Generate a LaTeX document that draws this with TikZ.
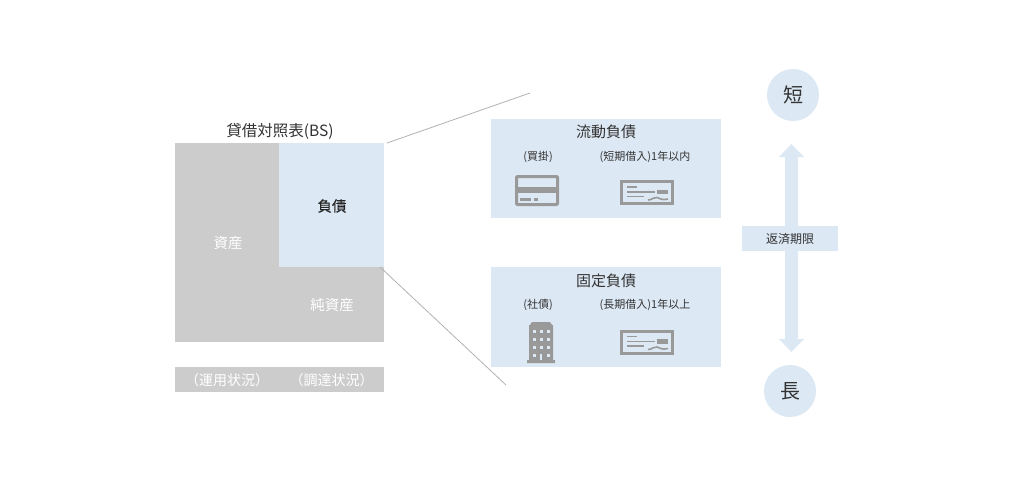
\documentclass[tikz,border=0pt]{standalone}
\usepackage{fontspec}
\setmainfont{Noto Sans CJK JP}
\newfontfamily\jpbold{Noto Sans CJK JP}[FakeBold=0.6]
\definecolor{pale}{HTML}{DCE8F4}
\definecolor{block}{HTML}{CCCCCC}
\definecolor{icon}{HTML}{999999}
\definecolor{ink}{HTML}{333333}
\newcommand{\fs}[1]{\fontsize{#1}{#1}\selectfont}
\tikzset{
  x=1pt,y=-1pt,
  area/.style={inner sep=0pt,outer sep=0pt,anchor=north west},
  lab/.style={inner sep=0pt,text=ink,anchor=center},
  wlab/.style={inner sep=0pt,text=white,anchor=center},
  lead/.style={draw=black!30,line width=0.8pt},
  iconline/.style={draw=icon,line width=3pt},
  iconthin/.style={draw=icon,line width=1.6pt},
}
\newcommand{\areabox}[6]{\node[area,fill=#6,minimum width=#4pt,minimum height=#5pt] (#1) at (#2,#3) {};}
\newcommand{\chequeicon}[2]{%
  \begin{scope}[shift={(#1,#2)}]
    \draw[iconline] (1.5,1.5) rectangle (52.5,23.5);
    \draw[iconthin] (7,7) -- (17,7);
    \draw[iconthin] (7,12) -- (35,12);
    \fill[icon] (37,9.5) rectangle (48,14);
    \draw[iconthin] (7,16.5) -- (24,16.5);
    \draw[iconthin] (28,20) .. controls (33,20) and (33,16.5) .. (37,17.5) .. controls (40,18.5) and (42,20.5) .. (48,19);
  \end{scope}}
\begin{document}
\begin{tikzpicture}
\useasboundingbox (0,0) rectangle (1024,492);
\fill[white] (0,0) rectangle (1024,492);
% balance sheet
\areabox{assets}{175}{143}{209}{199}{block}
\areabox{liab}{279}{143}{105}{124}{pale}
\areabox{strip}{175}{367}{209}{25}{block}
\areabox{cur}{491}{119}{230}{99}{pale}
\areabox{fix}{491}{267}{230}{100}{pale}
\node[lab,font=\fs{15.5}] (title) at (280,131) {貸借対照表(BS)};
\node[lab,font=\jpbold\fs{14.5},text=black!85] (liabt) at (332,206) {負債};
\node[wlab,font=\fs{14.5}] (assett) at (228,243) {資産};
\node[wlab,font=\fs{14.5}] (equity) at (332,305) {純資産};
\node[wlab,font=\fs{14}] (use) at (227,380) {（運用状況）};
\node[wlab,font=\fs{14}] (src) at (331.5,380) {（調達状況）};
% leads
\coordinate (la) at (387,143);
\coordinate (lb) at (530,93);
\coordinate (lc) at (380,267);
\coordinate (ld) at (506,385);
\draw[lead] (la) -- (lb);
\draw[lead] (lc) -- (ld);
% current
\node[lab,font=\fs{15}] (curt) at (606,132) {流動負債};
\node[lab,font=\fs{11}] (pay) at (538,157) {(買掛)};
\node[lab,font=\fs{11}] (short) at (645,157) {(短期借入)1年以内};
\draw[icon,line width=3pt,rounded corners=1pt] (516.5,176.5) rectangle (557.5,204.5);
\fill[icon] (516,187) rectangle (558,193);
\fill[icon] (520,197.5) rectangle (531,200.5);
\fill[icon] (534,197.5) rectangle (538,200.5);
\chequeicon{620}{180}
% fixed
\node[lab,font=\fs{15}] (fixt) at (606,281) {固定負債};
\node[lab,font=\fs{11}] (bond) at (538,305) {(社債)};
\node[lab,font=\fs{11}] (long) at (645,305) {(長期借入)1年以上};
\fill[icon] (530,325) -- (532,322) -- (550,322) -- (552,325) -- (553,325) -- (553,360) -- (555,360) -- (555,363) -- (527,363) -- (527,360) -- (529,360) -- (529,325) -- cycle;
\foreach \r in {330,338,346,354}
  \foreach \c in {532.5,539.5,546.5}
    \fill[pale] (\c,\r) rectangle +(3,3);
\fill[icon] (539.5,354) rectangle (542.5,357);
\fill[pale] (540,354) rectangle (542,360);
\chequeicon{620}{329.5}
% right side
\fill[pale] (791.5,144) -- (804,157) -- (798,157) -- (798,339) -- (804,339) -- (791.5,352) -- (779,339) -- (785,339) -- (785,157) -- (779,157) -- cycle;
\areabox{term}{742}{226}{96}{25}{pale}
\node[lab,font=\fs{12}] (termt) at (790,239) {返済期限};
\node[circle,fill=pale,minimum size=52pt,inner sep=0pt,text=ink,font=\fs{20}] (sh) at (793,95) {短};
\node[circle,fill=pale,minimum size=52pt,inner sep=0pt,text=ink,font=\fs{20}] (lo) at (790,391) {長};
\end{tikzpicture}
\end{document}
